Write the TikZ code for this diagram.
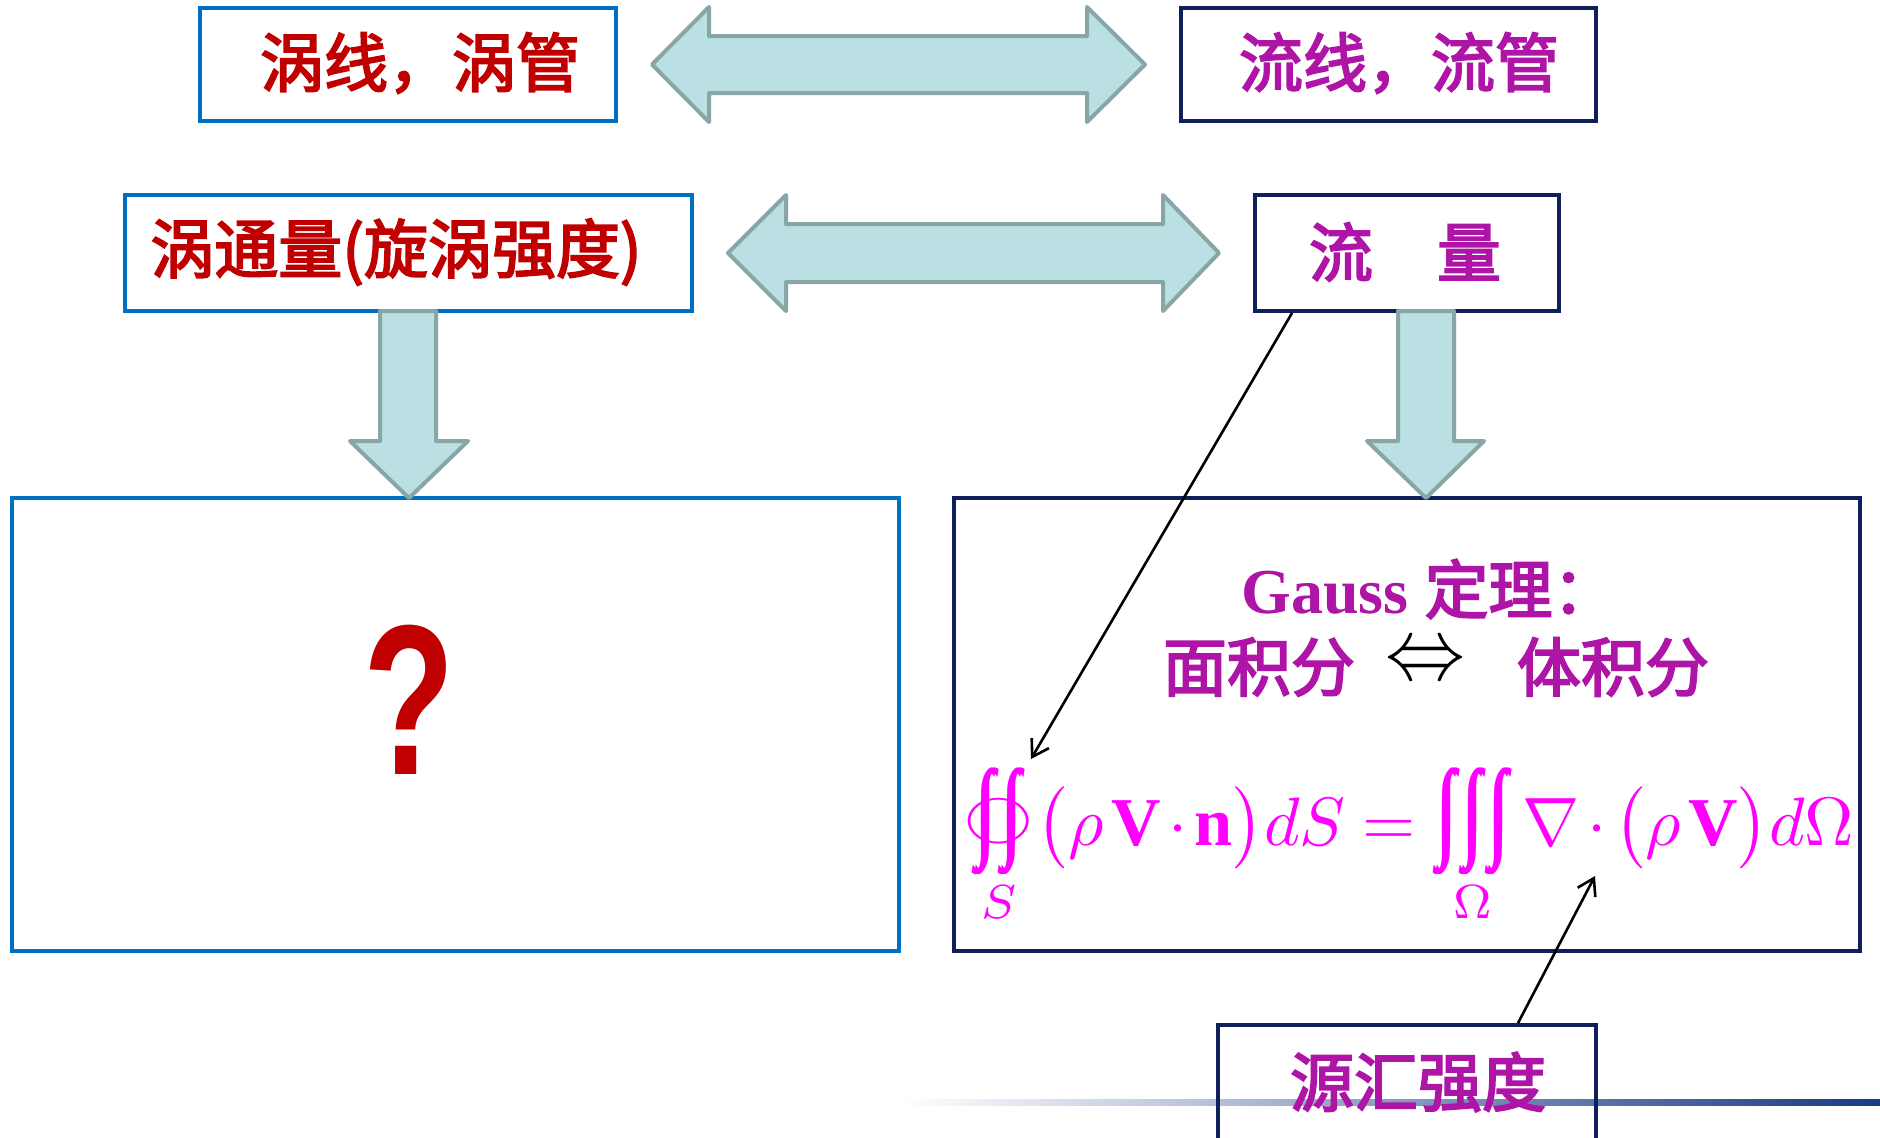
\documentclass[tikz,border=0pt]{standalone}
\usepackage{fontspec}
\usepackage{amsmath}
\usepackage{graphicx}
\setmainfont{Liberation Serif}
\newfontfamily\cjk{Noto Sans CJK SC}[FakeBold=3]
\newfontfamily\qfont{Liberation Sans}
\newfontfamily\intfont{Liberation Serif}
\usetikzlibrary{arrows.meta}
\definecolor{blueB}{HTML}{0070C0}
\definecolor{navyB}{HTML}{0E1F5C}
\definecolor{redT}{HTML}{C00000}
\definecolor{purpT}{HTML}{AE14A6}
\definecolor{formulaC}{HTML}{FF00FF}
\definecolor{arrFill}{HTML}{BAE0E3}
\definecolor{arrStroke}{HTML}{88A6A6}
\definecolor{lineNavy}{HTML}{183A85}
\newcommand{\tint}{\makebox[0.38em]{\raisebox{0.1em}{$\vcenter{\hbox{\resizebox*{0.3em}{1.56em}{\intfont\rlap{∫}\kern0.05em∫}}}$}}}
\newcommand{\myiiint}{\mathop{\hbox{\tint\tint\tint}}\limits}
\newcommand{\myoiint}{\mathop{\hbox{\makebox[1.0em]{\tint\tint}\llap{\makebox[1.0em]{\raisebox{0.17em}{\scalebox{1.0}[0.72]{$\bigcirc$}}}}}}\limits}
\begin{document}
\begin{tikzpicture}[x=0.5pt,y=-0.5pt,
  bluebox/.style={draw=blueB, line width=2pt, rectangle, inner sep=0pt},
  navybox/.style={draw=navyB, line width=2pt, rectangle, inner sep=0pt},
  fatarrow/.style={fill=arrFill, draw=arrStroke, line width=2pt, line join=round},
  link/.style={draw=black, line width=1.3pt, -{Straight Barb[length=8pt,width=10pt]}},
  redtxt/.style={text=redT, font=\cjk\fontsize{32}{36}\selectfont, inner sep=0pt},
  purptxt/.style={text=purpT, font=\cjk\fontsize{32}{36}\selectfont, inner sep=0pt}]
\useasboundingbox (0,0) rectangle (1880,1137);
\fill[white] (0,0) rectangle (1880,1137);

% bottom gradient line
\shade[left color=white, right color=lineNavy] (900,1099) rectangle (1880,1105);

% boxes
\node[bluebox, minimum width=208pt, minimum height=56.5pt] (b1) at (408,64.5) {};
\node[navybox, minimum width=207.5pt, minimum height=56.5pt] (b2) at (1388.5,64.5) {};
\node[bluebox, minimum width=283.5pt, minimum height=58pt] (b3) at (408.5,253) {};
\node[navybox, minimum width=152pt, minimum height=58pt] (b4) at (1407,253) {};
\node[bluebox, minimum width=443.5pt, minimum height=226.5pt] (b5) at (455.5,724.5) {};
\node[navybox, minimum width=453pt, minimum height=226.5pt] (b6) at (1407,724.5) {};
\node[navybox, minimum width=189pt, minimum height=67.5pt] (b7) at (1407,1092.5) {};

% box texts
\node[redtxt] (t1) at (420,63) {涡线，涡管};
\node[purptxt] (t2) at (1399,63) {流线，流管};
\node[redtxt] (t3) at (396,252) {涡通量(旋涡强度)};
\node[purptxt] (t4) at (1405,252) {流　量};
\node[purptxt] (t7) at (1418,1082) {源汇强度};

% fat arrows
\draw[fatarrow] (652,64.5) -- (709,7) -- (709,36) -- (1087,36) -- (1087,7) -- (1145,64.5) -- (1087,122) -- (1087,93) -- (709,93) -- (709,122) -- cycle;
\draw[fatarrow] (728,253) -- (786,195) -- (786,224) -- (1163,224) -- (1163,195) -- (1219,253) -- (1163,311) -- (1163,282) -- (786,282) -- (786,311) -- cycle;
\draw[fatarrow] (380,311) -- (436,311) -- (436,441) -- (468,441) -- (409,498) -- (350,441) -- (380,441) -- cycle;
\draw[fatarrow] (1398,311) -- (1454,311) -- (1454,441) -- (1484,441) -- (1426,498) -- (1367,441) -- (1398,441) -- cycle;

% question mark
\node[text=redT, inner sep=0pt] (q) at (409,700) {\scalebox{0.7}[1]{\qfont\bfseries\fontsize{107}{110}\selectfont ?}};

% Gauss theorem
\node[text=purpT, inner sep=0pt] (g1) at (1429,589) {\fontsize{32}{36}\selectfont\bfseries Gauss {\cjk\mdseries 定理：}};
\node[purptxt] (g2) at (1259,667) {面积分};
\node[inner sep=0pt] (g3) at (1425,679) {\smash{\scalebox{4}[4.4]{$\Leftrightarrow$}}};
\node[purptxt] (g4) at (1613,667) {体积分};

% formula
\node[text=formulaC, inner sep=0pt, anchor=base west] (f) at (964,845) {\resizebox{445pt}{!}{$\displaystyle \medmuskip=2mu \thickmuskip=4.5mu \myoiint_{S}\mkern1mu\bigl(\rho\mkern2mu\mathbf{V}\cdot\mathbf{n}\bigr)dS=\myiiint_{\Omega}\nabla\cdot\bigl(\rho\mkern2mu\mathbf{V}\bigr)d\Omega$}};

% connectors
\coordinate (e1) at (1031,759);
\coordinate (e2) at (1595,876);
\draw[link] ([xshift=19.5pt]b4.south west) -- (e1);
\draw[link] ([xshift=151pt]b7.north west) -- (e2);
\end{tikzpicture}
\end{document}
